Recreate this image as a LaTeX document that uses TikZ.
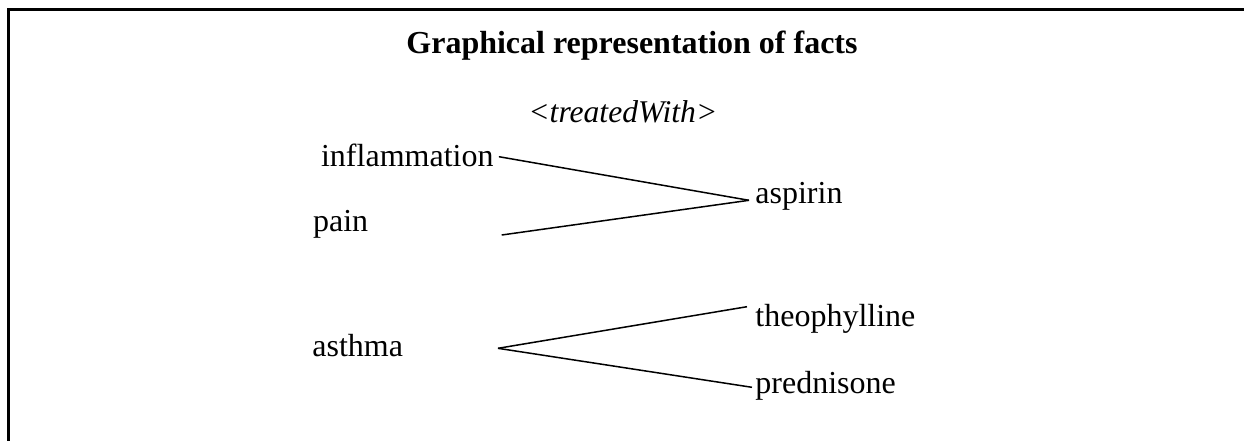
\documentclass[tikz,border=0pt]{standalone}
\usepackage{fontspec}
\setmainfont{Liberation Serif}
\usetikzlibrary{calc}

\begin{document}
\begin{tikzpicture}[x=0.5pt, y=-0.5pt,
    term/.style={anchor=base west, inner sep=0pt, font=\fontsize{16pt}{19pt}\selectfont},
    link/.style={black, line width=0.75pt}]

  % Page 1244 by 440 units, y runs downwards like the screenshot.
  \useasboundingbox (0,0) rectangle (1244,440);
  \clip (0,0) rectangle (1244,440);

  % Only the top and left of the frame are visible.
  \draw[line width=1.5pt, line join=miter] (8.5,460) -- (8.5,9.5) -- (1260,9.5);

  \node[term, anchor=base, font=\fontsize{16pt}{19pt}\selectfont\bfseries] (title) at (632,53)
    {Graphical representation of facts};
  \node[term, font=\fontsize{15.8pt}{18pt}\selectfont\itshape] (pred) at (528,122.7) {<treatedWith>};

  % Subjects on the left, objects on the right.
  \node[term] (inflammation) at (320.7,166)   {inflammation};
  \node[term] (pain)         at (312.7,231.7) {pain};
  \node[term] (asthma)       at (312,356.7)   {asthma};

  \node[term] (aspirin)      at (755,203.3) {aspirin};
  \node[term] (theophylline) at (755,326.7) {theophylline};
  \node[term] (prednisone)   at (755,393.3) {prednisone};

  % The facts themselves.
  \draw[link] ([shift={(5,-9.3)}]inflammation.base east) -- ([shift={(-6,-3)}]aspirin.base west);
  \draw[link] ([shift={(189,3.3)}]pain.base west) -- ([shift={(-6,-3)}]aspirin.base west);
  \draw[link] ([shift={(186,-8.4)}]asthma.base west) -- ([shift={(-8,-20)}]theophylline.base west);
  \draw[link] ([shift={(186,-8.4)}]asthma.base west) -- ([shift={(-3,-6)}]prednisone.base west);

\end{tikzpicture}
\end{document}
